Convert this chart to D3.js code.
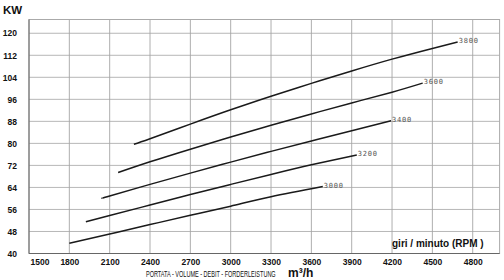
<!DOCTYPE html>
<html>
<head>
<meta charset="utf-8">
<script src="https://cdn.jsdelivr.net/npm/d3@7"></script>
<style>
  body { margin: 0; background: #fff; }
</style>
</head>
<body>
<svg id="chart" width="504" height="280"></svg>
<script>
// Values (m3/h vs KW) for each speed
const speeds = [3000, 3200, 3400, 3600, 3800];
const flow3000 = [1800, 2100, 2400, 2700, 3000, 3300, 3685];
const kw3000   = [43.7, 47.1, 50.5, 53.9, 57.2, 60.6, 64.3];
const flow3200 = [1923, 2100, 2400, 2700, 3000, 3300, 3600, 3938];
const kw3200   = [51.5, 53.8, 57.6, 61.4, 65.1, 68.7, 72.2, 75.8];
const flow3400 = [2044, 2100, 2400, 2700, 3000, 3300, 3600, 3900, 4193];
const kw3400   = [60.1, 60.9, 65.1, 69.2, 73.2, 77.1, 80.9, 84.6, 88.2];
const flow3600 = [2163, 2400, 2700, 3000, 3300, 3600, 3900, 4200, 4428];
const kw3600   = [69.4, 73.3, 77.9, 82.3, 86.6, 90.7, 94.7, 98.6, 101.9];
const flow3800 = [2280, 2400, 2700, 3000, 3300, 3600, 3900, 4200, 4500, 4688];
const kw3800   = [79.7, 81.7, 87.0, 92.2, 97.1, 101.8, 106.3, 110.6, 114.5, 116.8];

const xTicks = [1500, 1800, 2100, 2400, 2700, 3000, 3300, 3600, 3900, 4200, 4500, 4800];
const yTicks = [40, 48, 56, 64, 72, 80, 88, 96, 104, 112, 120];

const svg = d3.select('#chart');

const x = d3.scaleLinear().domain([1500, 5000]).range([29, 499.6]);
const y = d3.scaleLinear().domain([40, 125]).range([253.5, 19.5]);

const flows = [flow3000, flow3200, flow3400, flow3600, flow3800];
const kws = [kw3000, kw3200, kw3400, kw3600, kw3800];
const curves = speeds.map((s, i) => ({
    speed: s,
    pts: flows[i].map((f, j) => [f, kws[i][j]])
}));

// grid
svg.append('g')
    .selectAll('line')
    .data(xTicks.slice(1))
    .enter()
    .append('line')
    .attr('x1', d => x(d)).attr('x2', d => x(d))
    .attr('y1', y(125)).attr('y2', y(40))
    .attr('stroke', '#999')
    .attr('stroke-width', 0.8);

svg.append('g')
    .selectAll('line')
    .data(yTicks.slice(1))
    .enter()
    .append('line')
    .attr('x1', x(1500)).attr('x2', x(5000))
    .attr('y1', d => y(d)).attr('y2', d => y(d))
    .attr('stroke', '#a4a4a4')
    .attr('stroke-width', 0.8);

// frame
svg.append('rect')
    .attr('x', x(1500)).attr('y', y(125))
    .attr('width', x(5000) - x(1500))
    .attr('height', y(40) - y(125))
    .attr('fill', 'none')
    .attr('stroke', '#aaa')
    .attr('stroke-width', 1);

svg.append('line')
    .attr('x1', x(1500)).attr('x2', x(1500))
    .attr('y1', y(125)).attr('y2', y(40))
    .attr('stroke', '#666');
svg.append('line')
    .attr('x1', x(1500)).attr('x2', x(5000))
    .attr('y1', y(40)).attr('y2', y(40))
    .attr('stroke', '#666');

// axes: tick labels only, no tick marks
const xAxis = svg.append('g')
    .attr('transform', `translate(0,${y(40)})`)
    .call(d3.axisBottom(x).tickValues(xTicks).tickFormat(d3.format('d')).tickSize(0).tickPadding(5));
xAxis.select('.domain').remove();
xAxis.selectAll('text')
    .attr('font-family', 'Liberation Sans, Arial, sans-serif')
    .attr('font-size', 8.5)
    .attr('font-weight', 'bold')
    .attr('fill', '#111');
// first label sits inside the frame
xAxis.selectAll('text').filter(d => d === 1500)
    .attr('text-anchor', 'start')
    .attr('dx', 1);

const yAxis = svg.append('g')
    .attr('transform', `translate(${x(1500)},0)`)
    .call(d3.axisLeft(y).tickValues(yTicks).tickFormat(d3.format('d')).tickSize(0).tickPadding(12));
yAxis.select('.domain').remove();
yAxis.selectAll('text')
    .attr('font-family', 'Liberation Sans, Arial, sans-serif')
    .attr('font-size', 8.5)
    .attr('font-weight', 'bold')
    .attr('fill', '#111');

// curves
const line = d3.line()
    .x(d => x(d[0]))
    .y(d => y(d[1]))
    .curve(d3.curveNatural);

svg.append('g')
    .selectAll('path')
    .data(curves)
    .enter()
    .append('path')
    .attr('d', d => line(d.pts))
    .attr('fill', 'none')
    .attr('stroke', '#1a1a1a')
    .attr('stroke-width', 1.5);

svg.append('g')
    .selectAll('text')
    .data(curves)
    .enter()
    .append('text')
    .attr('x', d => x(d.pts[d.pts.length - 1][0]) + 1)
    .attr('y', d => y(d.pts[d.pts.length - 1][1]) + 1)
    .attr('font-family', 'DejaVu Sans Mono, monospace')
    .attr('font-size', 7)
    .attr('letter-spacing', 0.8)
    .attr('fill', '#555')
    .text(d => d.speed);

// titles
svg.append('text')
    .attr('x', 3).attr('y', 13.5)
    .attr('font-family', 'Liberation Sans Narrow, Liberation Sans, sans-serif')
    .attr('font-size', 11.5)
    .attr('font-weight', 'bold')
    .attr('fill', '#111')
    .text('KW');

svg.append('text')
    .attr('x', 392).attr('y', 247)
    .attr('font-family', 'Liberation Sans, Arial, sans-serif')
    .attr('font-size', 10)
    .attr('font-weight', 'bold')
    .attr('fill', '#111')
    .text('giri / minuto (RPM )');

// condensed caption: squeeze horizontally so it ends before the unit
const caption = svg.append('text')
    .attr('font-family', 'Liberation Sans Narrow, Liberation Sans, sans-serif')
    .attr('font-size', 8.5)
    .attr('fill', '#111')
    .text('PORTATA - VOLUME - DEBIT - FORDERLEISTUNG');
const capLen = caption.node().getComputedTextLength();
caption.attr('transform', `translate(146,277) scale(${130 / capLen},1)`);

svg.append('text')
    .attr('x', 288).attr('y', 277)
    .attr('font-family', 'Liberation Sans Narrow, Liberation Sans, sans-serif')
    .attr('font-size', 12)
    .attr('font-weight', 'bold')
    .attr('fill', '#111')
    .text('m³/h');
</script>
</body>
</html>
